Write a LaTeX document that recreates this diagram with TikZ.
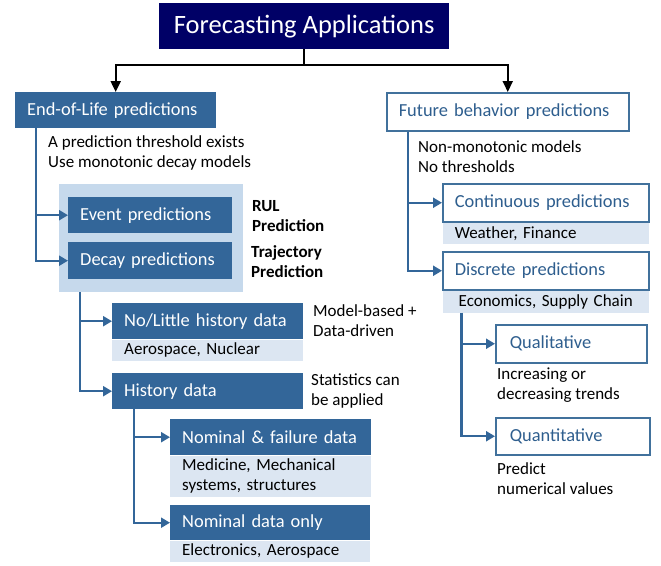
\documentclass[tikz,border=0pt]{standalone}
\usepackage{fontspec}
\setmainfont{Carlito}
\usetikzlibrary{arrows.meta, positioning}

\definecolor{titleblue}{HTML}{000066}
\definecolor{boxblue}{HTML}{336699}
\definecolor{lineblue}{HTML}{41719C}
\definecolor{textblue}{HTML}{2E5E8E}
\definecolor{groupblue}{HTML}{C6D9EC}
\definecolor{stripblue}{HTML}{DCE6F2}

\newcommand{\titlefont}{\fontsize{26.5}{30}\selectfont}
\newcommand{\boxfont}{\fontsize{18.4}{22}\selectfont}
\newcommand{\notefont}{\fontsize{17}{20}\selectfont}

\tikzstyle{headbox} = [rectangle, fill=titleblue, text=white, font=\titlefont, minimum width=290pt, minimum height=46pt, anchor=north west]
\tikzstyle{solidbox} = [rectangle, fill=boxblue, text=white, font=\boxfont, inner xsep=12pt, inner ysep=0pt, align=left, anchor=north west]
\tikzstyle{openbox} = [rectangle, draw=lineblue, line width=1.5pt, fill=white, text=textblue, font=\boxfont, inner xsep=12pt, inner ysep=0pt, align=left, anchor=north west]
\tikzstyle{strip} = [rectangle, fill=stripblue, font=\notefont, inner xsep=12pt, inner ysep=0pt, align=left]
\tikzstyle{note} = [font=\notefont, align=left, anchor=west, inner sep=0pt]
\tikzstyle{arrow} = [line width=2pt, ->, >={Triangle[length=11pt,width=10pt]}]
\tikzstyle{bluearrow} = [line width=2.2pt, ->, >={Triangle[length=9pt,width=10pt]}, draw=boxblue]

\begin{document}
\begin{tikzpicture}[x=1pt, y=-1pt]
	\useasboundingbox (0,0) rectangle (661,565);

	% Heading
	\node (head) [headbox] at (159,3) {Forecasting Applications};

	% Nodes for end-of-life branch
	\node (eol) [solidbox, text width=177pt, minimum height=36pt] at (15,92) {End-of-Life predictions};
	\node (eolnote) [note] at (48,153) {A prediction threshold exists\\Use monotonic decay models};
	\node (group) [rectangle, fill=groupblue, minimum width=184pt, minimum height=108pt, anchor=north west] at (59,184) {};
	\node (event) [solidbox, text width=140pt, minimum height=36pt] at (68,197) {Event predictions};
	\node (decay) [solidbox, text width=140pt, minimum height=37pt] at (68,242) {Decay predictions};
	\node (rul) [note, font=\notefont\bfseries] at (252,216) {RUL\\Prediction};
	\node (traj) [note, font=\notefont\bfseries] at (251,262) {Trajectory\\Prediction};

	\node (nolittle) [solidbox, text width=167pt, minimum height=36pt] at (112,303) {No/Little history data};
	\node (nolittlestrip) [strip, below=0pt of nolittle, text width=167pt, minimum height=21pt] {Aerospace, Nuclear};
	\node (modelnote) [note] at (313,321) {Model-based +\\Data-driven};
	\node (history) [solidbox, text width=167pt, minimum height=36pt] at (112,373) {History data};
	\node (statnote) [note] at (311,391) {Statistics can\\be applied};

	\node (failure) [solidbox, text width=177pt, minimum height=36pt] at (170,419) {Nominal \& failure data};
	\node (failurestrip) [strip, below=0pt of failure, text width=177pt, minimum height=41pt] {Medicine, Mechanical\\systems, structures};
	\node (nominal) [solidbox, text width=176pt, minimum height=35pt] at (170,505) {Nominal data only};
	\node (nominalstrip) [strip, below=0pt of nominal, text width=176pt, minimum height=21pt] {Electronics, Aerospace};

	% Nodes for future behavior branch
	\node (future) [openbox, text width=218pt, minimum height=38pt] at (386,92) {Future behavior predictions};
	\node (futnote) [note] at (418,157) {Non-monotonic models\\No thresholds};
	\node (cont) [openbox, text width=182pt, minimum height=38pt] at (442,183) {Continuous predictions};
	\node (contstrip) [strip, below=0pt of cont, text width=182pt, minimum height=21pt] {Weather, Finance};
	\node (disc) [openbox, text width=182pt, minimum height=38pt] at (442,251) {Discrete predictions};
	\node (discstrip) [strip, below=0pt of disc, text width=182pt, minimum height=22pt, align=center] {Economics, Supply Chain};
	\node (qual) [openbox, text width=127pt, minimum height=38pt] at (495,324) {\hspace{2pt}Qualitative};
	\node (qualnote) [note] at (497,385) {Increasing or\\decreasing trends};
	\node (quant) [openbox, text width=130pt, minimum height=37pt] at (495,417) {\hspace{2pt}Quantitative};
	\node (quantnote) [note] at (497,479) {Predict\\numerical values};

	% Arrows from the heading
	\draw [arrow] (head.south) -- ++(0,16) -| (eol.north);
	\draw [arrow] (head.south) -- ++(0,16) -| (future.north);

	% Arrows for end-of-life branch
	\draw [bluearrow] ([xshift=21pt]eol.south west) |- (event.west);
	\draw [bluearrow] ([xshift=21pt]eol.south west) |- (decay.west);
	\draw [bluearrow] ([xshift=21pt]group.south west) |- (nolittle.west);
	\draw [bluearrow] ([xshift=21pt]group.south west) |- (history.west);
	\draw [bluearrow] ([xshift=22pt]history.south west) |- (failure.west);
	\draw [bluearrow] ([xshift=22pt]history.south west) |- (nominal.west);

	% Arrows for future behavior branch
	\draw [bluearrow] ([xshift=22pt]future.south west) |- (cont.west);
	\draw [bluearrow] ([xshift=22pt]future.south west) |- (disc.west);
	\draw [bluearrow] ([xshift=19pt]discstrip.south west) |- (qual.west);
	\draw [bluearrow] ([xshift=19pt]discstrip.south west) |- (quant.west);

\end{tikzpicture}
\end{document}
